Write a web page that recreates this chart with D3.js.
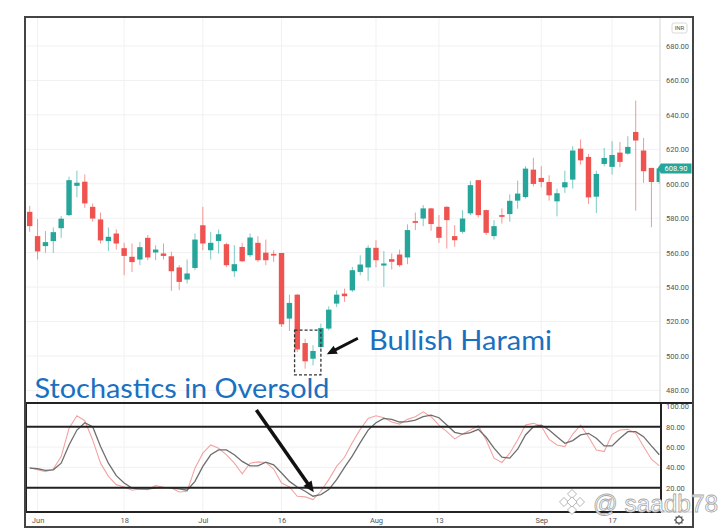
<!DOCTYPE html>
<html>
<head>
<meta charset="utf-8">
<script src="https://cdn.jsdelivr.net/npm/d3@7"></script>
<style>
  html, body { margin: 0; padding: 0; background: #fff; }
  svg { display: block; }
</style>
</head>
<body>
<svg id="chart" width="720" height="531"></svg>
<script>
// daily candles, NSE 2018
var dates = [
  "2018-05-31",
  "2018-06-01", "2018-06-04", "2018-06-05", "2018-06-06", "2018-06-07", "2018-06-08", "2018-06-11",
  "2018-06-12", "2018-06-13", "2018-06-14", "2018-06-15", "2018-06-18", "2018-06-19", "2018-06-20",
  "2018-06-21", "2018-06-22", "2018-06-25", "2018-06-26", "2018-06-27", "2018-06-28", "2018-06-29",
  "2018-07-02", "2018-07-03", "2018-07-04", "2018-07-05", "2018-07-06", "2018-07-09", "2018-07-10",
  "2018-07-11", "2018-07-12", "2018-07-13", "2018-07-16", "2018-07-17", "2018-07-18", "2018-07-19",
  "2018-07-20", "2018-07-23", "2018-07-24", "2018-07-25", "2018-07-26", "2018-07-27", "2018-07-30",
  "2018-07-31",
  "2018-08-01", "2018-08-02", "2018-08-03", "2018-08-06", "2018-08-07", "2018-08-08", "2018-08-09",
  "2018-08-10", "2018-08-13", "2018-08-14", "2018-08-16", "2018-08-17", "2018-08-20", "2018-08-21",
  "2018-08-23", "2018-08-24", "2018-08-27", "2018-08-28", "2018-08-29", "2018-08-30", "2018-08-31",
  "2018-09-03", "2018-09-04", "2018-09-05", "2018-09-06", "2018-09-07", "2018-09-10", "2018-09-11",
  "2018-09-12", "2018-09-14", "2018-09-17", "2018-09-18", "2018-09-19", "2018-09-21", "2018-09-24",
  "2018-09-25", "2018-09-26"
];

var open = [583.7, 569.6, 563.8, 566.7, 574.2, 581.8, 598.8, 601.2, 586.6, 579.3,
  566.7, 571.1, 562.6, 557.6, 556.0, 568.6, 560.1, 559.5, 557.9, 551.4,
  544.4, 551.1, 575.9, 561.4, 566.8, 564.9, 549.2, 563.3, 558.5, 565.7,
  560.0, 559.3, 559.8, 521.7, 535.6, 507.5, 498.4, 505.2, 515.9, 530.4,
  536.2, 538.1, 548.8, 551.4, 562.8, 552.5, 556.2, 558.9, 557.2, 578.3,
  579.8, 585.7, 575.0, 586.6, 569.6, 572.1, 582.8, 602.1, 584.7, 569.6,
  581.8, 582.4, 590.2, 592.3, 608.2, 603.4, 601.0, 589.8, 597.9, 602.4,
  620.4, 615.6, 592.5, 611.5, 609.8, 618.1, 617.5, 630.1, 619.3, 609.2,
  601.0];
var high = [587.2, 579.5, 572.5, 574.6, 581.2, 604.1, 607.6, 605.4, 588.6, 583.3,
  574.6, 573.6, 565.7, 565.3, 566.3, 570.2, 564.3, 565.3, 560.5, 552.7,
  556.0, 571.1, 586.6, 572.1, 573.4, 565.7, 564.3, 565.7, 571.1, 569.5,
  567.6, 561.4, 559.8, 535.6, 536.0, 510.0, 506.2, 518.8, 528.8, 538.1,
  539.1, 551.7, 558.5, 564.3, 567.2, 560.9, 559.5, 561.8, 576.4, 583.3,
  587.6, 586.0, 581.8, 587.0, 576.0, 584.7, 601.7, 602.3, 585.0, 578.9,
  585.7, 593.8, 601.8, 610.2, 615.0, 610.2, 604.9, 597.2, 607.6, 621.8,
  625.7, 617.3, 607.6, 620.8, 624.7, 624.3, 627.6, 648.3, 626.6, 609.2,
  610.5];
var low = [572.1, 556.0, 559.9, 559.9, 568.6, 581.2, 592.1, 586.0, 577.9, 565.3,
  560.9, 561.8, 546.9, 548.8, 552.7, 555.6, 555.6, 556.0, 537.8, 538.2,
  542.1, 549.8, 561.4, 556.0, 559.5, 551.7, 545.9, 554.6, 557.5, 554.6,
  552.7, 554.6, 516.8, 514.5, 502.3, 492.6, 494.5, 504.2, 514.9, 528.4,
  531.4, 537.2, 546.9, 543.6, 551.4, 540.1, 550.2, 551.7, 553.3, 573.1,
  575.4, 572.7, 565.7, 562.4, 563.4, 571.1, 581.8, 580.4, 570.2, 567.6,
  576.9, 577.9, 585.5, 591.4, 598.5, 597.9, 590.2, 581.1, 594.7, 597.2,
  611.1, 588.3, 583.0, 610.2, 605.3, 609.6, 616.9, 584.4, 600.5, 574.7,
  600.0];
var close = [575.4, 560.7, 566.1, 571.9, 579.7, 602.1, 600.6, 588.6, 579.8, 567.1,
  569.2, 565.3, 558.1, 554.5, 563.2, 557.2, 561.8, 558.1, 549.2, 543.0,
  547.9, 567.6, 565.3, 565.7, 570.7, 552.7, 553.3, 555.0, 568.8, 555.6,
  555.6, 558.3, 518.4, 530.8, 503.8, 496.9, 502.9, 516.2, 526.9, 535.6,
  534.7, 549.8, 553.1, 562.8, 555.6, 553.7, 554.7, 552.7, 573.1, 577.3,
  585.7, 576.6, 568.6, 578.9, 567.2, 579.8, 599.2, 581.8, 571.5, 575.4,
  580.8, 590.1, 594.3, 608.8, 599.9, 601.0, 593.3, 594.5, 600.9, 619.3,
  613.6, 592.1, 605.7, 615.0, 616.7, 612.7, 621.4, 625.1, 607.3, 601.0,
  608.9];

// stochastic %K (red) and %D (grey)
var stochK = [40, 37.7, 35.8, 38.4, 50.7, 78.4, 90.7, 85.9, 67, 44.2,
  31.2, 23.1, 20.8, 17.6, 18.9, 18.2, 22.1, 20.5, 19.8, 15.9,
  16.6, 39.3, 54, 62.1, 58.9, 52.4, 44.2, 33.8, 44.2, 45.5,
  44.9, 38.4, 24.7, 20.8, 11.7, 11.1, 8.5, 16.6, 28, 41,
  50, 64.4, 77.4, 88.1, 90.7, 88.8, 84.6, 82.6, 87.2, 89.8,
  94.6, 89.8, 81.6, 75.1, 68, 72.8, 76.7, 81, 67, 49.1,
  44.9, 54, 67, 81.6, 83.3, 80.7, 67.6, 62.1, 60.5, 72.8,
  81.6, 70.2, 57.2, 55.6, 72.5, 76.7, 77.4, 73.5, 60.5, 48.1,
  41.6];
var stochD = [39.3, 38.7, 37.1, 37.7, 44.2, 62.1, 76.7, 83.9, 80, 60.5,
  44.2, 31.9, 24.7, 19.8, 18.9, 18.9, 19.8, 20.2, 19.8, 18.9,
  17.6, 26.3, 41, 52.4, 57.2, 57.2, 52.4, 45.9, 41.6, 41.6,
  45.2, 42.6, 34.5, 26.3, 20.8, 16.6, 11.7, 13.3, 18.2, 28,
  40, 51.4, 64.4, 76.7, 83.9, 88.1, 87.2, 84.6, 84.9, 86.5,
  89.8, 91.4, 88.8, 81.6, 74.5, 72.8, 74.1, 77.4, 69.6, 58.9,
  50.1, 49.1, 57.9, 71.9, 80, 81.6, 76.7, 70.2, 63.7, 66.3,
  71.9, 73.5, 68.6, 61.1, 61.1, 68.6, 75.1, 75.1, 70.2, 61.1,
  52.4];

var priceTicks = [480, 500, 520, 540, 560, 580, 600, 620, 640, 660, 680];
var stochTicks = [20, 40, 60, 80, 100];
var timeTicks = ["2018-06-01", "2018-06-18", "2018-07-02", "2018-07-16",
  "2018-08-01", "2018-08-13", "2018-09-03", "2018-09-17"];
var timeTickLabels = ["Jun", "18", "Jul", "16", "Aug", "13", "Sep", "17"];
var lastPrice = 608.90;

var green = "#26a69a", red = "#ef5350";
var L = 25, R = 660, T = 17, PB = 403, SB = 512, FR = 693, FB = 527;

var svg = d3.select("#chart");

var x = d3.scalePoint().domain(dates).range([29.7, 659.3]);
var y = d3.scaleLinear().domain([480, 680]).range([390.4, 46]);
var ys = d3.scaleLinear().domain([20, 80]).range([487.8, 426.7]);

// x position of a fractional candle index
function xi(k) { return x(dates[0]) + k * x.step(); }

var defs = svg.append("defs");
defs.append("clipPath").attr("id", "priceClip")
  .append("rect").attr("x", L).attr("y", T).attr("width", R - L).attr("height", PB - T);
defs.append("clipPath").attr("id", "stochClip")
  .append("rect").attr("x", L).attr("y", PB).attr("width", R + 1 - L).attr("height", SB - PB);

// grid
var grid = svg.append("g").attr("stroke", "#f1f1f1").attr("stroke-width", 1);
grid.selectAll("line.h").data(priceTicks).join("line")
  .attr("x1", L).attr("x2", R)
  .attr("y1", function(d) { return y(d); }).attr("y2", function(d) { return y(d); });
grid.selectAll("line.s").data([40, 60]).join("line")
  .attr("x1", L).attr("x2", R)
  .attr("y1", function(d) { return ys(d); }).attr("y2", function(d) { return ys(d); });
grid.selectAll("line.v").data(timeTicks).join("line")
  .attr("x1", function(d) { return x(d); }).attr("x2", function(d) { return x(d); })
  .attr("y1", T).attr("y2", SB);

// candles
var candles = dates.map(function(d, i) {
  return { date: d, o: open[i], h: high[i], l: low[i], c: close[i] };
});
var bw = 5.4;
var cg = svg.append("g").attr("clip-path", "url(#priceClip)");
cg.selectAll("line.wick").data(candles).join("line")
  .attr("x1", function(d) { return x(d.date); })
  .attr("x2", function(d) { return x(d.date); })
  .attr("y1", function(d) { return y(d.h); })
  .attr("y2", function(d) { return y(d.l); })
  .attr("stroke", function(d) { return d.c >= d.o ? green : red; })
  .attr("stroke-opacity", 0.6)
  .attr("stroke-width", 1);
cg.selectAll("rect.body").data(candles).join("rect")
  .attr("x", function(d) { return x(d.date) - bw / 2; })
  .attr("width", bw)
  .attr("y", function(d) { return y(Math.max(d.o, d.c)); })
  .attr("height", function(d) { return Math.max(1.5, Math.abs(y(d.o) - y(d.c))); })
  .attr("fill", function(d) { return d.c >= d.o ? green : red; });

// stochastic lines
var sg = svg.append("g").attr("clip-path", "url(#stochClip)").attr("fill", "none");
var line = d3.line().x(function(d, i) { return x(dates[i]); }).y(function(d) { return ys(d); });
sg.append("path").datum(stochK).attr("d", line)
  .attr("stroke", "#f4a3a3").attr("stroke-width", 1.1);
sg.append("path").datum(stochD).attr("d", line)
  .attr("stroke", "#6e6e6e").attr("stroke-width", 1.3);

// axes
var yAxis = d3.axisRight(y).tickValues(priceTicks).tickFormat(d3.format(".2f")).tickSize(0).tickPadding(6);
svg.append("g").attr("transform", "translate(" + R + ",0)").call(yAxis)
  .attr("font-family", "Roboto").attr("font-size", 7.5)
  .call(function(g) { g.select(".domain").remove(); })
  .selectAll("text").attr("fill", "#555");

var sAxis = d3.axisRight(ys).tickValues(stochTicks).tickFormat(d3.format(".2f")).tickSize(0).tickPadding(6);
svg.append("g").attr("transform", "translate(" + R + ",0)").call(sAxis)
  .attr("font-family", "Roboto").attr("font-size", 7.5)
  .call(function(g) { g.select(".domain").remove(); })
  .selectAll("text").attr("fill", "#555");

var xAxis = d3.axisBottom(x).tickValues(timeTicks)
  .tickFormat(function(d, i) { return timeTickLabels[i]; }).tickSize(0).tickPadding(6);
svg.append("g").attr("transform", "translate(0," + SB + ")").call(xAxis)
  .attr("font-family", "Roboto").attr("font-size", 7.5)
  .call(function(g) { g.select(".domain").remove(); })
  .selectAll("text").attr("fill", "#555");

// price axis separator
svg.append("line").attr("x1", R).attr("x2", R).attr("y1", T).attr("y2", PB)
  .attr("stroke", "#d6d6d6").attr("stroke-width", 1);

// INR badge
svg.append("rect").attr("x", 672).attr("y", 23).attr("width", 15).attr("height", 10).attr("rx", 2)
  .attr("fill", "#fff").attr("stroke", "#d0d0d0").attr("stroke-width", 0.8);
svg.append("text").attr("x", 679.5).attr("y", 30.3).attr("text-anchor", "middle")
  .attr("font-family", "Roboto").attr("font-size", 6).attr("fill", "#555").text("INR");

// last price tag
var ly = y(lastPrice);
svg.append("path")
  .attr("d", "M" + 657.5 + "," + ly + " L" + 661 + "," + (ly - 5) + " H" + 691.5 + " V" + (ly + 5) + " H" + 661 + " Z")
  .attr("fill", green);
svg.append("text").attr("x", 676).attr("y", ly + 2.6).attr("text-anchor", "middle")
  .attr("font-family", "Roboto").attr("font-size", 7.5).attr("fill", "#fff").text(d3.format(".2f")(lastPrice));

// stochastic panel boxes
var boxes = svg.append("g").attr("stroke", "#222").attr("stroke-width", 2).attr("fill", "none");
boxes.append("line").attr("x1", L).attr("x2", FR).attr("y1", PB).attr("y2", PB);
boxes.append("line").attr("x1", L).attr("x2", R + 1).attr("y1", ys(80)).attr("y2", ys(80));
boxes.append("line").attr("x1", L).attr("x2", R + 1).attr("y1", ys(20)).attr("y2", ys(20));
boxes.append("line").attr("x1", L).attr("x2", R + 1).attr("y1", SB).attr("y2", SB);
boxes.append("line").attr("x1", R + 1).attr("x2", R + 1).attr("y1", PB).attr("y2", SB);
boxes.append("line").attr("x1", L + 1).attr("x2", L + 1).attr("y1", PB).attr("y2", SB);
svg.append("line").attr("x1", R + 1).attr("x2", FR).attr("y1", SB).attr("y2", SB)
  .attr("stroke", "#cfcfcf").attr("stroke-width", 1);

// gear icon
var gear = svg.append("g").attr("transform", "translate(679,520)")
  .attr("stroke", "#555").attr("fill", "none");
gear.append("circle").attr("r", 3.2).attr("stroke-width", 1.2);
gear.selectAll("line").data(d3.range(8)).join("line")
  .attr("x1", function(d) { return 3.2 * Math.cos(d * Math.PI / 4); })
  .attr("y1", function(d) { return 3.2 * Math.sin(d * Math.PI / 4); })
  .attr("x2", function(d) { return 4.8 * Math.cos(d * Math.PI / 4); })
  .attr("y2", function(d) { return 4.8 * Math.sin(d * Math.PI / 4); })
  .attr("stroke-width", 1.3);

// harami box around the pattern
svg.append("rect")
  .attr("x", xi(34) - 2.7).attr("y", y(515))
  .attr("width", xi(37) - xi(34) + 2.7).attr("height", y(489) - y(515))
  .attr("fill", "none").attr("stroke", "#333").attr("stroke-width", 1.3)
  .attr("stroke-dasharray", "3,2");

function arrow(x1, y1, x2, y2, w, head) {
  var a = Math.atan2(y2 - y1, x2 - x1);
  var bx = x2 - head * Math.cos(a), by = y2 - head * Math.sin(a);
  var hw = head * 0.45;
  var g = svg.append("g");
  g.append("line").attr("x1", x1).attr("y1", y1).attr("x2", bx + Math.cos(a)).attr("y2", by + Math.sin(a))
    .attr("stroke", "#111").attr("stroke-width", w);
  g.append("path")
    .attr("d", "M" + x2 + "," + y2 +
      "L" + (bx - hw * Math.sin(a)) + "," + (by + hw * Math.cos(a)) +
      "L" + (bx + hw * Math.sin(a)) + "," + (by - hw * Math.cos(a)) + "Z")
    .attr("fill", "#111");
}

arrow(xi(41.7), y(510.3), xi(37.75), y(501), 3, 10);
arrow(xi(28.8), ys(96.3), xi(36.1), ys(15.6), 3.5, 11);

// annotations
svg.append("text").attr("x", 369).attr("y", 349.5)
  .attr("font-family", "Lato").attr("font-size", 27).attr("fill", "#1a70c0")
  .attr("textLength", 183).attr("lengthAdjust", "spacingAndGlyphs")
  .text("Bullish Harami");
svg.append("text").attr("x", 34.5).attr("y", 397.5)
  .attr("font-family", "Lato").attr("font-size", 27).attr("fill", "#1a70c0")
  .attr("textLength", 295).attr("lengthAdjust", "spacingAndGlyphs")
  .text("Stochastics in Oversold");

// outer frame
svg.append("rect").attr("x", L).attr("y", T).attr("width", FR - L).attr("height", FB - T)
  .attr("fill", "none").attr("stroke", "#444").attr("stroke-width", 2);

// watermark
var wm = svg.append("g").attr("fill", "#fff").attr("stroke", "#a8a8a8").attr("stroke-width", 0.8);
[[0, -8, 3.2], [-8, 0, 3.2], [8, 0, 3.2], [0, 8, 3.2], [0, 0, 3.6]].forEach(function(p) {
  wm.append("rect").attr("x", -p[2]).attr("y", -p[2]).attr("width", 2 * p[2]).attr("height", 2 * p[2])
    .attr("transform", "translate(" + (572 + p[0]) + "," + (502 + p[1]) + ") rotate(45)");
});
wm.append("text").attr("x", 593).attr("y", 512)
  .attr("font-family", "Liberation Sans").attr("font-size", 23)
  .attr("textLength", 125).attr("lengthAdjust", "spacingAndGlyphs")
  .text("@ saadb78");
</script>
</body>
</html>
